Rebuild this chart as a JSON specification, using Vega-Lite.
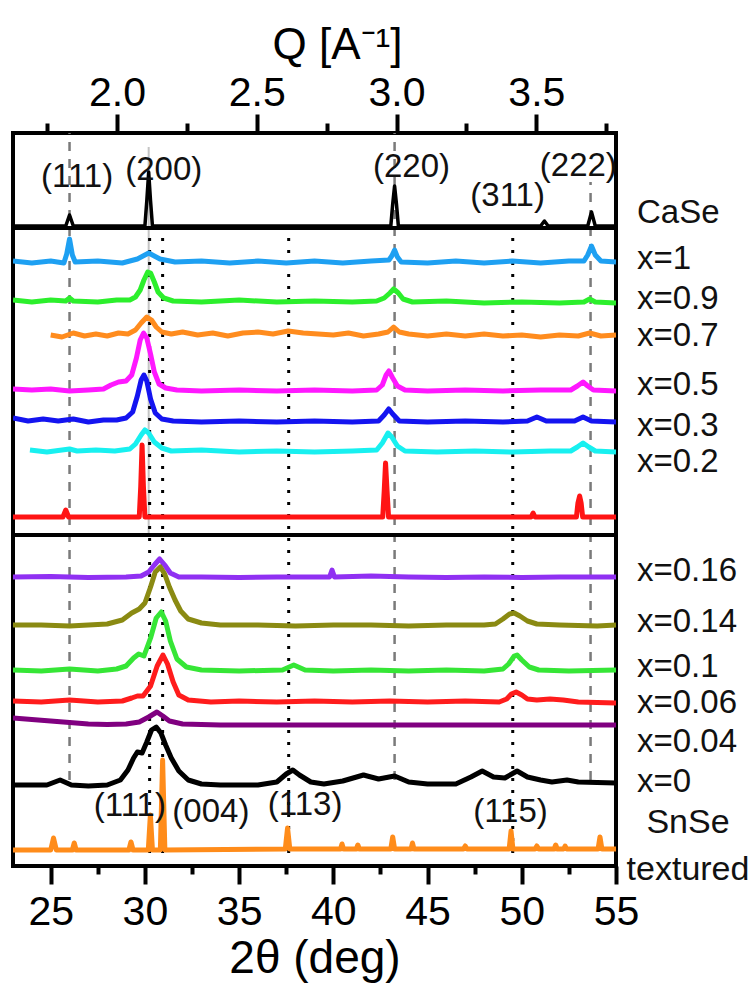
{
"$schema":"https://vega.github.io/schema/vega-lite/v6.json",
"width":603,"height":733,
"autosize":{"type":"none"},
"padding":{"left":13,"top":133,"right":140,"bottom":118},
"config":{"view":{"stroke":"black","strokeWidth":4},"font":"Liberation Sans"},
"datasets":{
"tr":[
{"s":"CaSe","t":23,"y":640},{"s":"CaSe","t":25.8,"y":640},{"s":"CaSe","t":26.0,"y":651},{"s":"CaSe","t":26.2,"y":640},{"s":"CaSe","t":30.0,"y":640},{"s":"CaSe","t":30.1,"y":665},{"s":"CaSe","t":30.2,"y":694},{"s":"CaSe","t":30.3,"y":665},{"s":"CaSe","t":30.4,"y":640},{"s":"CaSe","t":43.05,"y":640},{"s":"CaSe","t":43.15,"y":662},{"s":"CaSe","t":43.25,"y":680},{"s":"CaSe","t":43.35,"y":662},{"s":"CaSe","t":43.45,"y":640},{"s":"CaSe","t":51.0,"y":640},{"s":"CaSe","t":51.2,"y":645},{"s":"CaSe","t":51.4,"y":640},{"s":"CaSe","t":53.5,"y":640},{"s":"CaSe","t":53.7,"y":654},{"s":"CaSe","t":53.9,"y":640},{"s":"CaSe","t":55,"y":640},
{"s":"x=1","t":23,"y":605},{"s":"x=1","t":24,"y":603},{"s":"x=1","t":25,"y":605},{"s":"x=1","t":25.7,"y":603},{"s":"x=1","t":25.85,"y":612},{"s":"x=1","t":26.0,"y":627},{"s":"x=1","t":26.15,"y":611},{"s":"x=1","t":26.3,"y":604},{"s":"x=1","t":27.5,"y":605},{"s":"x=1","t":28.8,"y":603},{"s":"x=1","t":29.6,"y":607},{"s":"x=1","t":30.2,"y":613},{"s":"x=1","t":30.8,"y":607},{"s":"x=1","t":31.6,"y":604},{"s":"x=1","t":33,"y":605},{"s":"x=1","t":34.5,"y":603},{"s":"x=1","t":36,"y":605},{"s":"x=1","t":37.5,"y":603},{"s":"x=1","t":39,"y":605},{"s":"x=1","t":40.5,"y":603},{"s":"x=1","t":42,"y":605},{"s":"x=1","t":42.95,"y":606},{"s":"x=1","t":43.1,"y":610},{"s":"x=1","t":43.25,"y":616},{"s":"x=1","t":43.4,"y":609},{"s":"x=1","t":43.6,"y":604},{"s":"x=1","t":45,"y":603},{"s":"x=1","t":46.5,"y":605},{"s":"x=1","t":48,"y":603},{"s":"x=1","t":49.5,"y":605},{"s":"x=1","t":51,"y":603},{"s":"x=1","t":52.5,"y":605},{"s":"x=1","t":53.3,"y":605},{"s":"x=1","t":53.5,"y":611},{"s":"x=1","t":53.7,"y":620},{"s":"x=1","t":53.9,"y":611},{"s":"x=1","t":54.2,"y":605},{"s":"x=1","t":55,"y":604},
{"s":"x=0.9","t":23,"y":566},{"s":"x=0.9","t":24,"y":564},{"s":"x=0.9","t":25,"y":566},{"s":"x=0.9","t":25.8,"y":565},{"s":"x=0.9","t":26.0,"y":568},{"s":"x=0.9","t":26.2,"y":565},{"s":"x=0.9","t":27.5,"y":564},{"s":"x=0.9","t":28.5,"y":566},{"s":"x=0.9","t":29.2,"y":566},{"s":"x=0.9","t":29.5,"y":569},{"s":"x=0.9","t":29.75,"y":576},{"s":"x=0.9","t":29.95,"y":586},{"s":"x=0.9","t":30.15,"y":594},{"s":"x=0.9","t":30.3,"y":593},{"s":"x=0.9","t":30.5,"y":584},{"s":"x=0.9","t":30.7,"y":574},{"s":"x=0.9","t":31.0,"y":568},{"s":"x=0.9","t":31.5,"y":565},{"s":"x=0.9","t":33,"y":564},{"s":"x=0.9","t":35,"y":566},{"s":"x=0.9","t":37,"y":564},{"s":"x=0.9","t":39,"y":565},{"s":"x=0.9","t":41,"y":564},{"s":"x=0.9","t":42.3,"y":565},{"s":"x=0.9","t":42.7,"y":568},{"s":"x=0.9","t":43.0,"y":573},{"s":"x=0.9","t":43.2,"y":577},{"s":"x=0.9","t":43.45,"y":573},{"s":"x=0.9","t":43.7,"y":567},{"s":"x=0.9","t":44.2,"y":564},{"s":"x=0.9","t":46,"y":565},{"s":"x=0.9","t":48,"y":563},{"s":"x=0.9","t":50,"y":564},{"s":"x=0.9","t":52,"y":563},{"s":"x=0.9","t":53.3,"y":564},{"s":"x=0.9","t":53.6,"y":567},{"s":"x=0.9","t":53.9,"y":564},{"s":"x=0.9","t":55,"y":563},
{"s":"x=0.7","t":25,"y":531},{"s":"x=0.7","t":25.6,"y":529},{"s":"x=0.7","t":26.2,"y":533},{"s":"x=0.7","t":26.8,"y":530},{"s":"x=0.7","t":27.4,"y":532},{"s":"x=0.7","t":28,"y":530},{"s":"x=0.7","t":28.6,"y":533},{"s":"x=0.7","t":29.1,"y":532},{"s":"x=0.7","t":29.5,"y":536},{"s":"x=0.7","t":29.8,"y":543},{"s":"x=0.7","t":30.1,"y":549},{"s":"x=0.7","t":30.35,"y":546},{"s":"x=0.7","t":30.6,"y":539},{"s":"x=0.7","t":30.9,"y":534},{"s":"x=0.7","t":31.4,"y":532},{"s":"x=0.7","t":32,"y":534},{"s":"x=0.7","t":32.8,"y":531},{"s":"x=0.7","t":33.6,"y":533},{"s":"x=0.7","t":34.4,"y":530},{"s":"x=0.7","t":35.2,"y":533},{"s":"x=0.7","t":36,"y":534},{"s":"x=0.7","t":36.8,"y":532},{"s":"x=0.7","t":37.6,"y":535},{"s":"x=0.7","t":38.4,"y":533},{"s":"x=0.7","t":39.2,"y":532},{"s":"x=0.7","t":40,"y":531},{"s":"x=0.7","t":40.8,"y":533},{"s":"x=0.7","t":41.6,"y":530},{"s":"x=0.7","t":42.4,"y":532},{"s":"x=0.7","t":42.9,"y":534},{"s":"x=0.7","t":43.2,"y":539},{"s":"x=0.7","t":43.5,"y":534},{"s":"x=0.7","t":44,"y":532},{"s":"x=0.7","t":45,"y":530},{"s":"x=0.7","t":46,"y":532},{"s":"x=0.7","t":47,"y":530},{"s":"x=0.7","t":48,"y":532},{"s":"x=0.7","t":49,"y":530},{"s":"x=0.7","t":50,"y":531},{"s":"x=0.7","t":51,"y":529},{"s":"x=0.7","t":52,"y":531},{"s":"x=0.7","t":53,"y":530},{"s":"x=0.7","t":53.6,"y":533},{"s":"x=0.7","t":54.2,"y":530},{"s":"x=0.7","t":55,"y":531},
{"s":"x=0.5","t":23,"y":477},{"s":"x=0.5","t":24,"y":476},{"s":"x=0.5","t":25,"y":477},{"s":"x=0.5","t":26,"y":475},{"s":"x=0.5","t":27,"y":476},{"s":"x=0.5","t":27.8,"y":477},{"s":"x=0.5","t":28.2,"y":481},{"s":"x=0.5","t":28.6,"y":484},{"s":"x=0.5","t":29.0,"y":485},{"s":"x=0.5","t":29.3,"y":491},{"s":"x=0.5","t":29.55,"y":508},{"s":"x=0.5","t":29.75,"y":526},{"s":"x=0.5","t":29.93,"y":533},{"s":"x=0.5","t":30.1,"y":528},{"s":"x=0.5","t":30.3,"y":512},{"s":"x=0.5","t":30.5,"y":494},{"s":"x=0.5","t":30.75,"y":482},{"s":"x=0.5","t":31.1,"y":478},{"s":"x=0.5","t":31.7,"y":476},{"s":"x=0.5","t":33,"y":475},{"s":"x=0.5","t":35,"y":476},{"s":"x=0.5","t":37,"y":475},{"s":"x=0.5","t":39,"y":476},{"s":"x=0.5","t":41,"y":475},{"s":"x=0.5","t":42.3,"y":476},{"s":"x=0.5","t":42.6,"y":481},{"s":"x=0.5","t":42.8,"y":491},{"s":"x=0.5","t":42.95,"y":495},{"s":"x=0.5","t":43.15,"y":488},{"s":"x=0.5","t":43.4,"y":480},{"s":"x=0.5","t":43.8,"y":476},{"s":"x=0.5","t":45,"y":475},{"s":"x=0.5","t":47,"y":476},{"s":"x=0.5","t":49,"y":475},{"s":"x=0.5","t":51,"y":476},{"s":"x=0.5","t":52.6,"y":476},{"s":"x=0.5","t":52.95,"y":480},{"s":"x=0.5","t":53.25,"y":484},{"s":"x=0.5","t":53.5,"y":480},{"s":"x=0.5","t":53.8,"y":476},{"s":"x=0.5","t":55,"y":475},
{"s":"x=0.3","t":23,"y":448},{"s":"x=0.3","t":23.8,"y":445},{"s":"x=0.3","t":24.6,"y":447},{"s":"x=0.3","t":25.4,"y":445},{"s":"x=0.3","t":26.2,"y":447},{"s":"x=0.3","t":27,"y":444},{"s":"x=0.3","t":27.8,"y":446},{"s":"x=0.3","t":28.5,"y":446},{"s":"x=0.3","t":29.0,"y":448},{"s":"x=0.3","t":29.35,"y":454},{"s":"x=0.3","t":29.6,"y":470},{"s":"x=0.3","t":29.8,"y":486},{"s":"x=0.3","t":29.95,"y":491},{"s":"x=0.3","t":30.1,"y":485},{"s":"x=0.3","t":30.3,"y":467},{"s":"x=0.3","t":30.55,"y":453},{"s":"x=0.3","t":30.9,"y":447},{"s":"x=0.3","t":31.5,"y":445},{"s":"x=0.3","t":33,"y":444},{"s":"x=0.3","t":35,"y":445},{"s":"x=0.3","t":37,"y":444},{"s":"x=0.3","t":39,"y":445},{"s":"x=0.3","t":41,"y":444},{"s":"x=0.3","t":42.4,"y":445},{"s":"x=0.3","t":42.7,"y":451},{"s":"x=0.3","t":42.94,"y":457},{"s":"x=0.3","t":43.15,"y":452},{"s":"x=0.3","t":43.5,"y":445},{"s":"x=0.3","t":45,"y":444},{"s":"x=0.3","t":47,"y":445},{"s":"x=0.3","t":49,"y":444},{"s":"x=0.3","t":50.3,"y":445},{"s":"x=0.3","t":50.8,"y":449},{"s":"x=0.3","t":51.3,"y":445},{"s":"x=0.3","t":52.8,"y":445},{"s":"x=0.3","t":53.25,"y":449},{"s":"x=0.3","t":53.7,"y":445},{"s":"x=0.3","t":55,"y":444},
{"s":"x=0.2","t":23.9,"y":416},{"s":"x=0.2","t":24.8,"y":414},{"s":"x=0.2","t":25.6,"y":416},{"s":"x=0.2","t":26.0,"y":417},{"s":"x=0.2","t":26.4,"y":415},{"s":"x=0.2","t":27.4,"y":416},{"s":"x=0.2","t":28.4,"y":415},{"s":"x=0.2","t":29.2,"y":417},{"s":"x=0.2","t":29.5,"y":422},{"s":"x=0.2","t":29.8,"y":431},{"s":"x=0.2","t":30.0,"y":436},{"s":"x=0.2","t":30.2,"y":433},{"s":"x=0.2","t":30.5,"y":424},{"s":"x=0.2","t":30.9,"y":418},{"s":"x=0.2","t":31.4,"y":415},{"s":"x=0.2","t":33,"y":416},{"s":"x=0.2","t":35,"y":414},{"s":"x=0.2","t":37,"y":415},{"s":"x=0.2","t":39,"y":414},{"s":"x=0.2","t":41,"y":415},{"s":"x=0.2","t":42.3,"y":416},{"s":"x=0.2","t":42.6,"y":423},{"s":"x=0.2","t":42.9,"y":433},{"s":"x=0.2","t":43.1,"y":429},{"s":"x=0.2","t":43.4,"y":420},{"s":"x=0.2","t":43.8,"y":415},{"s":"x=0.2","t":45.5,"y":414},{"s":"x=0.2","t":47.5,"y":415},{"s":"x=0.2","t":49.5,"y":414},{"s":"x=0.2","t":51.5,"y":415},{"s":"x=0.2","t":52.6,"y":415},{"s":"x=0.2","t":52.95,"y":419},{"s":"x=0.2","t":53.25,"y":423},{"s":"x=0.2","t":53.55,"y":419},{"s":"x=0.2","t":53.9,"y":415},{"s":"x=0.2","t":55,"y":414},
{"s":"ref","t":23,"y":349},{"s":"ref","t":25.65,"y":349},{"s":"ref","t":25.8,"y":356},{"s":"ref","t":25.95,"y":349},{"s":"ref","t":29.7,"y":349},{"s":"ref","t":29.78,"y":380},{"s":"ref","t":29.85,"y":421},{"s":"ref","t":29.92,"y":380},{"s":"ref","t":30.0,"y":349},{"s":"ref","t":42.62,"y":349},{"s":"ref","t":42.7,"y":375},{"s":"ref","t":42.77,"y":403},{"s":"ref","t":42.85,"y":375},{"s":"ref","t":42.93,"y":349},{"s":"ref","t":50.5,"y":349},{"s":"ref","t":50.6,"y":353},{"s":"ref","t":50.7,"y":349},{"s":"ref","t":52.9,"y":349},{"s":"ref","t":52.98,"y":363},{"s":"ref","t":53.07,"y":370},{"s":"ref","t":53.15,"y":363},{"s":"ref","t":53.23,"y":349},{"s":"ref","t":55,"y":349},
{"s":"x=0.16","t":23,"y":289},{"s":"x=0.16","t":25,"y":289.5},{"s":"x=0.16","t":27,"y":288.5},{"s":"x=0.16","t":29,"y":289},{"s":"x=0.16","t":29.8,"y":290},{"s":"x=0.16","t":30.2,"y":294},{"s":"x=0.16","t":30.5,"y":301},{"s":"x=0.16","t":30.78,"y":307},{"s":"x=0.16","t":31.05,"y":301},{"s":"x=0.16","t":31.35,"y":293},{"s":"x=0.16","t":31.8,"y":289},{"s":"x=0.16","t":33,"y":289},{"s":"x=0.16","t":35,"y":288.5},{"s":"x=0.16","t":37,"y":289},{"s":"x=0.16","t":39,"y":289},{"s":"x=0.16","t":39.8,"y":289},{"s":"x=0.16","t":39.93,"y":296},{"s":"x=0.16","t":40.06,"y":289},{"s":"x=0.16","t":42,"y":290},{"s":"x=0.16","t":44,"y":289},{"s":"x=0.16","t":46,"y":288.5},{"s":"x=0.16","t":48,"y":289},{"s":"x=0.16","t":50,"y":288.5},{"s":"x=0.16","t":52,"y":289},{"s":"x=0.16","t":55,"y":289},
{"s":"x=0.14","t":23,"y":241},{"s":"x=0.14","t":24.5,"y":241},{"s":"x=0.14","t":26,"y":240},{"s":"x=0.14","t":27,"y":241},{"s":"x=0.14","t":28,"y":242},{"s":"x=0.14","t":28.8,"y":246},{"s":"x=0.14","t":29.3,"y":253},{"s":"x=0.14","t":29.7,"y":257},{"s":"x=0.14","t":30.0,"y":263},{"s":"x=0.14","t":30.3,"y":279},{"s":"x=0.14","t":30.55,"y":294},{"s":"x=0.14","t":30.82,"y":299},{"s":"x=0.14","t":31.05,"y":292},{"s":"x=0.14","t":31.3,"y":279},{"s":"x=0.14","t":31.6,"y":266},{"s":"x=0.14","t":31.9,"y":255},{"s":"x=0.14","t":32.3,"y":247},{"s":"x=0.14","t":33,"y":243},{"s":"x=0.14","t":34,"y":241},{"s":"x=0.14","t":36,"y":241},{"s":"x=0.14","t":38,"y":240},{"s":"x=0.14","t":40,"y":241},{"s":"x=0.14","t":42,"y":241},{"s":"x=0.14","t":44,"y":240},{"s":"x=0.14","t":46,"y":241},{"s":"x=0.14","t":48,"y":241},{"s":"x=0.14","t":48.6,"y":242},{"s":"x=0.14","t":49.0,"y":247},{"s":"x=0.14","t":49.35,"y":252},{"s":"x=0.14","t":49.6,"y":253},{"s":"x=0.14","t":49.9,"y":250},{"s":"x=0.14","t":50.3,"y":245},{"s":"x=0.14","t":50.8,"y":242},{"s":"x=0.14","t":52,"y":241},{"s":"x=0.14","t":54,"y":240},{"s":"x=0.14","t":55,"y":241},
{"s":"x=0.1","t":23,"y":196},{"s":"x=0.1","t":24.5,"y":195},{"s":"x=0.1","t":26,"y":197},{"s":"x=0.1","t":27.5,"y":195},{"s":"x=0.1","t":28.5,"y":197},{"s":"x=0.1","t":29.0,"y":200},{"s":"x=0.1","t":29.4,"y":208},{"s":"x=0.1","t":29.67,"y":212},{"s":"x=0.1","t":29.95,"y":210},{"s":"x=0.1","t":30.3,"y":228},{"s":"x=0.1","t":30.6,"y":248},{"s":"x=0.1","t":30.87,"y":254},{"s":"x=0.1","t":31.1,"y":245},{"s":"x=0.1","t":31.35,"y":225},{"s":"x=0.1","t":31.7,"y":207},{"s":"x=0.1","t":32.2,"y":199},{"s":"x=0.1","t":33,"y":196},{"s":"x=0.1","t":35,"y":195},{"s":"x=0.1","t":37.3,"y":196},{"s":"x=0.1","t":37.9,"y":201},{"s":"x=0.1","t":38.5,"y":196},{"s":"x=0.1","t":40,"y":195},{"s":"x=0.1","t":42,"y":196},{"s":"x=0.1","t":44,"y":195},{"s":"x=0.1","t":46,"y":196},{"s":"x=0.1","t":48,"y":195},{"s":"x=0.1","t":49.0,"y":197},{"s":"x=0.1","t":49.3,"y":202},{"s":"x=0.1","t":49.6,"y":210},{"s":"x=0.1","t":49.75,"y":211},{"s":"x=0.1","t":50.0,"y":206},{"s":"x=0.1","t":50.4,"y":199},{"s":"x=0.1","t":50.9,"y":196},{"s":"x=0.1","t":52.5,"y":195},{"s":"x=0.1","t":55,"y":196},
{"s":"x=0.06","t":23,"y":165},{"s":"x=0.06","t":24.5,"y":164},{"s":"x=0.06","t":26,"y":166},{"s":"x=0.06","t":27.5,"y":164},{"s":"x=0.06","t":28.8,"y":165},{"s":"x=0.06","t":29.3,"y":168},{"s":"x=0.06","t":29.6,"y":170},{"s":"x=0.06","t":29.9,"y":170},{"s":"x=0.06","t":30.3,"y":180},{"s":"x=0.06","t":30.65,"y":200},{"s":"x=0.06","t":30.96,"y":211},{"s":"x=0.06","t":31.2,"y":202},{"s":"x=0.06","t":31.5,"y":184},{"s":"x=0.06","t":31.8,"y":171},{"s":"x=0.06","t":32.3,"y":166},{"s":"x=0.06","t":33.5,"y":164},{"s":"x=0.06","t":35,"y":165},{"s":"x=0.06","t":37,"y":164},{"s":"x=0.06","t":39,"y":165},{"s":"x=0.06","t":41,"y":164},{"s":"x=0.06","t":43,"y":165},{"s":"x=0.06","t":45,"y":164},{"s":"x=0.06","t":47,"y":165},{"s":"x=0.06","t":48.8,"y":164},{"s":"x=0.06","t":49.2,"y":167},{"s":"x=0.06","t":49.45,"y":172},{"s":"x=0.06","t":49.7,"y":174},{"s":"x=0.06","t":50.0,"y":171},{"s":"x=0.06","t":50.3,"y":167},{"s":"x=0.06","t":50.8,"y":166},{"s":"x=0.06","t":51.5,"y":167},{"s":"x=0.06","t":52.2,"y":166},{"s":"x=0.06","t":53,"y":164},{"s":"x=0.06","t":55,"y":163},
{"s":"x=0.04","t":23,"y":148},{"s":"x=0.04","t":24,"y":146.5},{"s":"x=0.04","t":25,"y":145},{"s":"x=0.04","t":26,"y":143.5},{"s":"x=0.04","t":27,"y":142},{"s":"x=0.04","t":28,"y":141.5},{"s":"x=0.04","t":29,"y":142},{"s":"x=0.04","t":29.7,"y":144},{"s":"x=0.04","t":30.2,"y":149},{"s":"x=0.04","t":30.64,"y":154},{"s":"x=0.04","t":30.95,"y":150},{"s":"x=0.04","t":31.3,"y":145},{"s":"x=0.04","t":32,"y":142},{"s":"x=0.04","t":34,"y":141},{"s":"x=0.04","t":40,"y":141},{"s":"x=0.04","t":46,"y":141},{"s":"x=0.04","t":55,"y":141},
{"s":"x=0","t":23,"y":81},{"s":"x=0","t":24.8,"y":81},{"s":"x=0","t":25.5,"y":86},{"s":"x=0","t":26.1,"y":81},{"s":"x=0","t":27,"y":80},{"s":"x=0","t":28,"y":81},{"s":"x=0","t":28.7,"y":86},{"s":"x=0","t":29.1,"y":96},{"s":"x=0","t":29.4,"y":108},{"s":"x=0","t":29.6,"y":114},{"s":"x=0","t":29.85,"y":113},{"s":"x=0","t":30.1,"y":124},{"s":"x=0","t":30.35,"y":136},{"s":"x=0","t":30.6,"y":139},{"s":"x=0","t":30.85,"y":133},{"s":"x=0","t":31.1,"y":121},{"s":"x=0","t":31.4,"y":108},{"s":"x=0","t":31.8,"y":95},{"s":"x=0","t":32.3,"y":86},{"s":"x=0","t":33,"y":82},{"s":"x=0","t":34,"y":81},{"s":"x=0","t":36,"y":81},{"s":"x=0","t":37.0,"y":84},{"s":"x=0","t":37.5,"y":92},{"s":"x=0","t":37.85,"y":96},{"s":"x=0","t":38.2,"y":91},{"s":"x=0","t":38.8,"y":84},{"s":"x=0","t":39.5,"y":82},{"s":"x=0","t":40.5,"y":85},{"s":"x=0","t":41.6,"y":91},{"s":"x=0","t":42.4,"y":87},{"s":"x=0","t":43.25,"y":90},{"s":"x=0","t":44,"y":84},{"s":"x=0","t":45,"y":82},{"s":"x=0","t":46.5,"y":82},{"s":"x=0","t":47.3,"y":89},{"s":"x=0","t":47.9,"y":95},{"s":"x=0","t":48.5,"y":89},{"s":"x=0","t":49.1,"y":88},{"s":"x=0","t":49.75,"y":95},{"s":"x=0","t":50.3,"y":89},{"s":"x=0","t":51.0,"y":86},{"s":"x=0","t":51.6,"y":84},{"s":"x=0","t":52.4,"y":86},{"s":"x=0","t":53,"y":84},{"s":"x=0","t":55,"y":83},
{"s":"SnSe","t":23,"y":16},{"s":"SnSe","t":25.0,"y":16},{"s":"SnSe","t":25.15,"y":28},{"s":"SnSe","t":25.3,"y":16},{"s":"SnSe","t":26.15,"y":16},{"s":"SnSe","t":26.25,"y":23},{"s":"SnSe","t":26.35,"y":16},{"s":"SnSe","t":29.15,"y":16},{"s":"SnSe","t":29.26,"y":24},{"s":"SnSe","t":29.37,"y":16},{"s":"SnSe","t":30.18,"y":16},{"s":"SnSe","t":30.29,"y":51},{"s":"SnSe","t":30.4,"y":16},{"s":"SnSe","t":30.82,"y":16},{"s":"SnSe","t":30.94,"y":106},{"s":"SnSe","t":31.06,"y":16},{"s":"SnSe","t":37.45,"y":17},{"s":"SnSe","t":37.57,"y":38},{"s":"SnSe","t":37.69,"y":17},{"s":"SnSe","t":40.38,"y":17},{"s":"SnSe","t":40.46,"y":22},{"s":"SnSe","t":40.54,"y":17},{"s":"SnSe","t":41.22,"y":17},{"s":"SnSe","t":41.3,"y":21},{"s":"SnSe","t":41.38,"y":17},{"s":"SnSe","t":43.05,"y":17},{"s":"SnSe","t":43.15,"y":29},{"s":"SnSe","t":43.25,"y":17},{"s":"SnSe","t":44.12,"y":17},{"s":"SnSe","t":44.2,"y":23},{"s":"SnSe","t":44.28,"y":17},{"s":"SnSe","t":46.9,"y":17},{"s":"SnSe","t":47.0,"y":20},{"s":"SnSe","t":47.1,"y":17},{"s":"SnSe","t":49.33,"y":17},{"s":"SnSe","t":49.43,"y":35},{"s":"SnSe","t":49.53,"y":17},{"s":"SnSe","t":50.7,"y":17},{"s":"SnSe","t":50.8,"y":20},{"s":"SnSe","t":50.9,"y":17},{"s":"SnSe","t":51.72,"y":17},{"s":"SnSe","t":51.8,"y":21},{"s":"SnSe","t":51.88,"y":17},{"s":"SnSe","t":52.22,"y":17},{"s":"SnSe","t":52.3,"y":20},{"s":"SnSe","t":52.38,"y":17},{"s":"SnSe","t":54.05,"y":17},{"s":"SnSe","t":54.15,"y":29},{"s":"SnSe","t":54.25,"y":17},{"s":"SnSe","t":55,"y":17}
],
"dash":[{"t":26.0,"y1":86,"y2":733},{"t":43.25,"y1":86,"y2":733},{"t":53.65,"y1":86,"y2":684}],
"solid":[{"t":30.2,"y1":331,"y2":719}],
"dot":[{"t":30.25,"y1":13,"y2":648},{"t":30.94,"y1":13,"y2":648},{"t":37.63,"y1":13,"y2":648},{"t":49.52,"y1":13,"y2":648}],
"div":[{"y":638},{"y":331}],
"rlab":[{"l":"CaSe","y":653},{"l":"x=1","y":607},{"l":"x=0.9","y":567},{"l":"x=0.7","y":530},{"l":"x=0.5","y":481},{"l":"x=0.3","y":440},{"l":"x=0.2","y":404},{"l":"x=0.16","y":295},{"l":"x=0.14","y":244},{"l":"x=0.1","y":199},{"l":"x=0.06","y":163},{"l":"x=0.04","y":124},{"l":"x=0","y":84}],
"clab":[{"l":"SnSe","y":43},{"l":"textured","y":-4}],
"plab":[{"l":"(111)","t":26.4,"y":689},{"l":"(200)","t":31.0,"y":696},{"l":"(220)","t":44.15,"y":699},{"l":"(311)","t":49.25,"y":670},{"l":"(222)","t":53.0,"y":700},{"l":"(111)","t":29.2,"y":60},{"l":"(004)","t":33.5,"y":54},{"l":"(113)","t":38.5,"y":61},{"l":"(115)","t":49.4,"y":54}],
"q":[{"q":1.628},{"q":3.785}]
},
"layer":[
{"layer":[
 {"data":{"name":"dash"},"mark":{"type":"rule","color":"#7a7a7a","strokeWidth":2.5,"strokeDash":[9,8]},
  "encoding":{"x":{"field":"t","type":"quantitative","scale":{"domain":[23,55],"nice":false,"zero":false},
   "axis":{"orient":"bottom","values":[25,27.5,30,32.5,35,37.5,40,42.5,45,47.5,50,52.5,55],"format":".1f","labelExpr":"datum.value % 5 === 0 ? format(datum.value,'d') : ''",
    "tickSize":{"condition":{"test":"datum.value % 5 === 0","value":18},"value":8},"tickWidth":4,"tickColor":"black","domain":false,"grid":false,
    "labelFontSize":41,"labelColor":"black","labelPadding":8,"labelOverlap":false,"labelFlush":false,"labelBound":false,
    "title":"2θ (deg)","titleFontSize":46,"titleFontWeight":"normal","titleColor":"black","titleY":106,"titleBaseline":"alphabetic"}},
   "y":{"field":"y1","type":"quantitative","scale":{"domain":[0,733],"nice":false,"zero":false},"axis":null},"y2":{"field":"y2"}}},
 {"data":{"name":"solid"},"mark":{"type":"rule","color":"#c4c4c4","strokeWidth":2},
  "encoding":{"x":{"field":"t","type":"quantitative"},"y":{"field":"y1","type":"quantitative"},"y2":{"field":"y2"}}},
 {"data":{"name":"dot"},"mark":{"type":"rule","color":"black","strokeWidth":3,"strokeDash":[3,9]},
  "encoding":{"x":{"field":"t","type":"quantitative"},"y":{"field":"y1","type":"quantitative"},"y2":{"field":"y2"}}},
 {"data":{"name":"div"},"mark":{"type":"rule","color":"black","strokeWidth":4},
  "encoding":{"y":{"field":"y","type":"quantitative"}}},
 {"data":{"name":"tr"},"transform":[{"filter":"datum.s !== 'CaSe'"}],"mark":{"type":"line","strokeWidth":5,"strokeJoin":"round","clip":true},
  "encoding":{"x":{"field":"t","type":"quantitative"},"y":{"field":"y","type":"quantitative"},
   "color":{"field":"s","type":"nominal","legend":null,"scale":{
    "domain":["CaSe","x=1","x=0.9","x=0.7","x=0.5","x=0.3","x=0.2","ref","x=0.16","x=0.14","x=0.1","x=0.06","x=0.04","x=0","SnSe"],
    "range":["#000000","#1ea0f2","#2cef2c","#ff8c1e","#ff18ff","#1414f0","#18f0f0","#ff1414","#9030f2","#8a8a12","#36e636","#ff1c1c","#800080","#000000","#ff8c1a"]}}}},
 {"data":{"name":"tr"},"transform":[{"filter":"datum.s === 'CaSe'"}],"mark":{"type":"line","strokeWidth":3.5,"strokeJoin":"round","clip":true,"color":"black"},
  "encoding":{"x":{"field":"t","type":"quantitative"},"y":{"field":"y","type":"quantitative"}}},
 {"data":{"name":"plab"},"mark":{"type":"text","fontSize":33,"color":"#111111","baseline":"middle","align":"center"},
  "encoding":{"x":{"field":"t","type":"quantitative"},"y":{"field":"y","type":"quantitative"},"text":{"field":"l"}}},
 {"data":{"name":"rlab"},"mark":{"type":"text","fontSize":33,"color":"#111111","baseline":"middle","align":"left","dx":21},
  "encoding":{"x":{"datum":55},"y":{"field":"y","type":"quantitative"},"text":{"field":"l"}}},
 {"data":{"name":"clab"},"mark":{"type":"text","fontSize":34,"color":"#111111","baseline":"middle","align":"center","dx":72},
  "encoding":{"x":{"datum":55},"y":{"field":"y","type":"quantitative"},"text":{"field":"l"}}}
]},
{"data":{"name":"q"},"mark":{"type":"point","opacity":0},
 "encoding":{"x":{"field":"q","type":"quantitative","scale":{"domain":[1.628,3.785],"nice":false,"zero":false},
  "axis":{"orient":"top","values":[1.75,2.0,2.25,2.5,2.75,3.0,3.25,3.5,3.75],"labelExpr":"round(datum.value*10) % 5 === 0 ? format(datum.value,'.1f') : ''",
   "tickSize":{"condition":{"test":"round(datum.value*10) % 5 === 0","value":19},"value":10},"tickWidth":4,"tickColor":"black","domain":false,"grid":false,
   "labelFontSize":41,"labelColor":"black","labelPadding":0,"labelOverlap":false,"labelFlush":false,"labelBound":false,
   "title":"Q [A⁻¹]","titleFontSize":44,"titleFontWeight":"normal","titleColor":"black","titleY":-75,"titleX":324,"titleAlign":"center","titleBaseline":"alphabetic"}}}}
],
"resolve":{"scale":{"x":"independent"}}
}
